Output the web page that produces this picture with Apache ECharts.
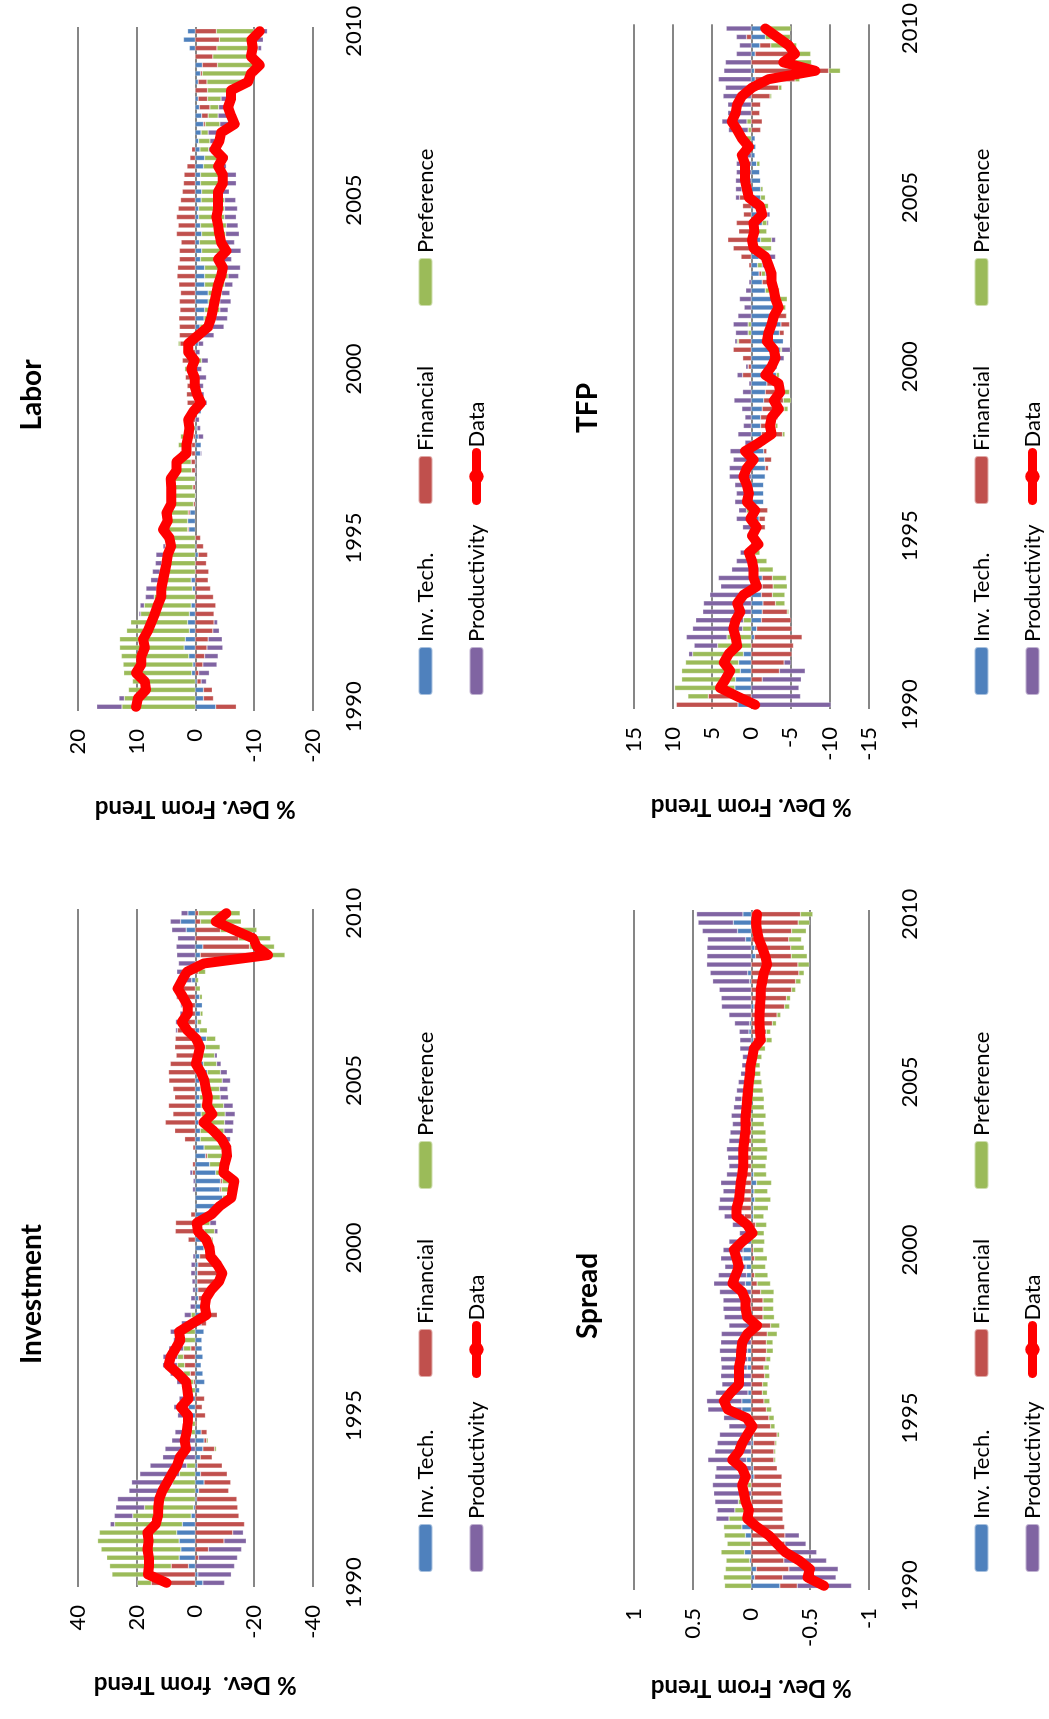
<!DOCTYPE html>
<html>
<head>
<meta charset="utf-8">
<script src="https://cdn.jsdelivr.net/npm/echarts@6/dist/echarts.min.js"></script>
<style>
  html, body { margin: 0; padding: 0; background: #fff; }
  body { width: 1049px; height: 1719px; overflow: hidden; position: relative; }
  /* the figure is drawn landscape and turned a quarter turn, as in the original */
  #chart {
    position: absolute; left: 0; top: 0;
    width: 1719px; height: 1049px;
    transform-origin: 0 0;
    transform: translate(0, 1719px) rotate(-90deg);
  }
</style>
</head>
<body>
<div id="chart"></div>
<script>
// quarters 1990 Q1 .. 2010 Q1
const categories = []
for (let y = 1990; y <= 2010; y++) {
  for (let q = 1; q <= 4; q++) categories.push(y + ' Q' + q)
}
categories.length = 81
const yearTicks = ['1990', '1995', '2000', '2005', '2010']
const legendNames = ['Inv. Tech.', 'Financial', 'Preference', 'Productivity', 'Data']

// Investment
const invTech = [
  -2.6, -0.9, 2.3, 5.5, 4.9, 5.5, 6.3, 4.4, 1.4, 0.6,
  -0.5, -1.2, -3.0, -1.8, -0.7, -1.7, -2.6, -3.0, -2.0, 0,
  1.5, 2.3, 2.5, -1.5, -3.2, -2.6, -2.0, -2.6, -2.3, -2.3,
  -3.0, -2.0, -3.5, -2.0, -1.1, -0.9, -0.6, -0.7, -0.9, -1.5,
  -3.0, -5.5, -3.0, -1.5, -5.5, -7.7, -9.4, -8.4, -8.6, -7.0,
  -4.9, -3.5, -3.0, -1.7, -1.7, -1.2, -2.0, -2.0, -1.5, -1.7,
  -1.5, -4.1, -2.8, -2.6, -3.4, -3.8, -1.5, -0.7, -1.7, -2.4,
  -1.5, 0, 1.2, 0.5, 0, -1.7, -2.6, 0, 3.1, 5.0,
  2.5
]
const invFin = [
  15.0, 17.0, 5.9, -1.1, -4.5, -9.8, -12.8, -16.8, -14.9, -14.5,
  -13.7, -10.2, -9.1, -9.1, -8.5, -4.1, -4.0, -0.9, -2.0, -0.5,
  -3.5, -2.4, -3.2, 0, 0.6, 1.7, 3.6, 4.0, 1.5, 0,
  0, -1.8, -4.0, 0, -1.5, -4.5, -6.6, -9.0, -8.0, -3.5,
  0, 2.4, 6.8, 6.7, 1.5, 0, 0, -0.5, -0.6, 0.9,
  0.9, -0.6, 0.8, 3.6, 7.0, 10.2, 7.6, 9.1, 7.0, 7.6,
  9.0, 9.1, 8.5, 6.5, 7.0, 6.8, 6.1, 6.0, 4.0, 4.5,
  6.3, 7.1, 0, -1.0, -4.0, -24.4, -15.9, -14.8, -8.6, -1.8,
  -1.1
]
const invPref = [
  4.8, 11.4, 21.0, 24.7, 27.2, 27.8, 26.4, 23.1, 19.9, 16.7,
  13.5, 10.1, 7.7, 5.4, 2.9, 0, -0.6, -0.5, 1.4, 1.1,
  0, 0, 0, 1.7, 1.7, 2.3, 2.5, 2.0, 2.5, 3.6,
  4.0, 2.0, 1.4, -3.0, -2.6, -1.0, -2.0, -1.0, 0, -1.0,
  -1.9, -0.6, -3.6, -3.5, -1.5, -0.6, -2.9, -4.8, -4.8, -4.0,
  -6.0, -6.5, -8.2, -7.2, -8.1, -8.8, -8.2, -7.7, -7.0, -6.6,
  -7.7, -4.5, -4.5, -4.0, -5.1, -3.2, -2.6, -1.4, -0.9, 0,
  -0.9, -1.7, -1.1, -2.5, -4.5, -4.5, -8.5, -10.9, -12.4, -13.9,
  -14.2
]
const invProd = [
  -7.4, -11.4, -13.4, -13.3, -11.3, -7.6, -3.6, 1.5, 6.3, 9.8,
  13.0, 12.5, 14.0, 13.5, 12.5, 11.1, 10.3, 8.0, 5.5, 2.0,
  4.5, 5.0, 3.0, 2.5, 4.0, 4.5, 5.0, 5.0, 5.0, 3.8,
  4.5, 2.7, 2.3, 1.7, 1.5, 0.9, 1.1, 1.5, 1.4, 0.8,
  0, 0, -1.1, -2.2, 0, 0, 0, 0.9, 0.7, 0.9,
  0, 0, 0, -3.1, -3.1, -3.1, -3.4, -3.2, -2.8, -2.8,
  -2.8, -2.3, -1.5, -0.9, 0, 0, 0.6, 0.7, 1.2, 0.5,
  0.3, 0.5, 4.0, 5.8, 5.7, 6.3, 6.5, 6.0, 4.9, 3.5,
  2.3
]
const invData = [
  9.8, 16.1, 15.8, 15.8, 16.3, 15.9, 16.3, 13.5, 12.7, 12.6,
  12.3, 11.2, 9.6, 8.0, 6.2, 5.3, 3.1, 3.6, 2.9, 2.6,
  2.5, 4.9, 2.3, 2.7, 3.1, 5.9, 9.1, 8.4, 6.7, 5.1,
  5.5, 0.9, -3.8, -3.3, -3.7, -5.5, -8.1, -9.2, -7.5, -5.2,
  -4.9, -3.7, -0.9, -0.5, -5.5, -8.3, -12.3, -12.8, -13.3, -9.6,
  -10.0, -10.8, -10.6, -9.0, -6.2, -2.8, -5.8, -4.0, -4.3, -3.6,
  -3.1, -1.9, -0.2, -1.0, -1.6, -0.3, 2.7, 4.6, 2.6, 2.6,
  4.2, 6.0, 4.5, 2.8, -3.0, -24.8, -21.0, -19.7, -13.2, -7.0,
  -10.6
]

// Labor
const labTech = [
  -3.5, -1.4, -1.4, -0.3, 0.6, 0.4, 1.1, 1.9, 1.7, 1.0,
  1.3, 1.0, 0.7, 0, 0.5, 0.7, 0, 0, -0.5, -0.2,
  0, 1.1, 1.3, 0.9, 0, 0, 0, 0, 0, 0,
  -0.9, -1.0, -0.5, -0.3, 0, -1.0, -0.5, -0.5, -0.5, -0.6,
  -0.1, -0.5, 0, -0.5, -0.3, -0.8, -1.5, -1.6, -2.2, -2.2,
  -1.6, -1.6, -1.6, -0.9, -1.1, -0.7, -1.1, -0.9, -0.6, -0.6,
  -1.0, -1.1, -0.9, -0.9, -1.4, -1.6, -0.8, -0.6, -1.0, -1.4,
  -1.1, -0.7, -0.5, 0, -0.5, -0.9, -1.2, 0, 1.0, 2.0,
  1.3
]
const labFin = [
  -3.5, -1.7, -1.5, -0.7, -0.6, -1.3, -1.6, -2.0, -2.2, -3.0,
  -3.2, -3.2, -3.5, -3.1, -2.6, -2.2, -2.3, -1.9, -1.6, -1.2,
  -0.9, 0.2, 0, 0.3, 0.3, 0, 0.4, 0, 0.6, 0.7,
  0.6, 0.6, 0.3, 0, 0.8, 1.1, 1.4, 1.5, 1.4, 1.7,
  1.4, 2.2, 2.0, 2.6, 2.7, 2.7, 2.8, 2.6, 2.7, 2.5,
  2.8, 3.1, 3.0, 2.7, 2.7, 2.4, 3.2, 2.9, 3.2, 2.9,
  2.5, 2.2, 2.0, 1.9, 1.4, 0.9, 0.6, 0, 0, -0.3,
  -1.1, -1.8, -1.6, -2.1, -1.5, -0.3, -2.6, -3.0, -3.7, -4.1,
  -3.6
]
const labPref = [
  12.5, 12.1, 11.4, 10.7, 11.6, 11.9, 11.5, 11.0, 11.2, 10.7,
  9.7, 8.3, 8.0, 7.0, 6.1, 5.6, 6.0, 5.7, 5.4, 5.1,
  5.3, 4.2, 3.4, 4.1, 3.8, 4.1, 3.7, 4.2, 2.6, 2.7,
  2.0, 2.3, 2.2, 1.5, 1.0, 0, 0, 0, 0, 0,
  0.4, -0.6, 0, 0.3, -0.7, -2.1, -2.0, -2.6, -2.0, -2.3,
  -3.4, -4.0, -3.6, -3.8, -4.1, -4.3, -4.1, -4.4, -4.4, -4.4,
  -4.0, -3.3, -3.5, -3.5, -2.5, -2.5, -1.5, -1.9, -1.2, -2.5,
  -1.7, -1.5, -2.3, -3.5, -7.0, -8.0, -7.2, -6.6, -7.0, -6.0,
  -6.4
]
const labProd = [
  4.3, 0.9, 0, -0.9, -1.8, -2.4, -2.3, -2.7, -2.4, -1.1,
  -0.6, 0.3, 0.7, 1.5, 1.8, 1.3, 1.3, 1.1, 1.3, 0.4,
  0, 0, 0, 0, 0, 0, 0, -0.2, -0.2, -0.2,
  -0.2, 0, -0.9, -0.6, -0.7, 0, -1.5, -1.0, -0.9, -1.3,
  -1.0, -1.1, -0.8, -0.9, -2.2, -2.0, -2.0, -1.4, -1.9, -1.4,
  -1.4, -1.8, -2.5, -1.5, -2.6, -1.7, -2.3, -2.0, -2.0, -2.2,
  -1.9, -1.4, -2.6, -2.6, -1.4, -1.5, -1.6, -1.6, -1.9, -2.5,
  -2.2, -1.6, -1.7, -0.4, 0, -0.3, 0, 0, -0.6, -1.5,
  -2.3
]
const labData = [
  10.1, 9.8, 8.4, 8.6, 10.1, 9.2, 9.2, 8.6, 8.9, 8.1,
  7.5, 6.9, 6.4, 5.8, 5.8, 5.5, 5.2, 4.9, 4.7, 4.1,
  4.4, 5.5, 4.7, 4.9, 4.1, 4.1, 4.1, 4.2, 3.2, 3.2,
  1.5, 1.5, 1.2, 1.0, 1.2, 0.3, -1.0, -0.3, 0.1, 0.1,
  0.7, 0.1, 1.2, 1.2, -0.5, -2.2, -2.7, -3.0, -3.3, -3.6,
  -3.9, -4.4, -4.7, -3.9, -5.3, -4.4, -4.1, -3.9, -3.6, -3.9,
  -3.9, -3.9, -4.7, -4.7, -3.9, -4.7, -3.3, -4.1, -4.4, -6.7,
  -6.1, -5.6, -6.1, -6.1, -9.0, -9.5, -11.0, -9.5, -9.8, -9.6,
  -11.0
]

// Spread
const sprTech = [
  -0.244, -0.028, -0.043, 0.014, 0.057, 0.005, 0.05, 0.08, 0, 0,
  0, 0, 0, -0.023, -0.017, 0.04, 0, -0.017, -0.02, 0,
  0, 0.08, 0.08, 0.028, 0, 0, 0.035, 0.03, 0.03, 0,
  0, 0, 0, 0, 0, 0, 0.05, 0.04, 0.045, 0.07,
  0.07, 0.05, 0, 0, -0.017, -0.017, -0.03, -0.023, -0.045, -0.02,
  0, 0, 0, 0, 0, 0, 0, 0, 0, 0,
  0, 0, 0, 0, 0, -0.017, 0.02, 0.014, 0, -0.023,
  0, 0, 0.014, 0.03, 0, -0.037, -0.03, 0.048, 0.117, 0.153,
  0.071
]
const sprFin = [
  -0.148, -0.24, -0.278, -0.278, -0.278, -0.287, -0.287, -0.284, -0.27, -0.27,
  -0.27, -0.26, -0.256, -0.24, -0.205, -0.193, -0.193, -0.185, -0.2, -0.165,
  -0.15, -0.128, -0.108, -0.094, -0.097, -0.114, -0.108, -0.125, -0.13, -0.128,
  -0.136, -0.165, -0.1, -0.1, -0.1, -0.08, -0.05, -0.028, 0, -0.028,
  -0.017, 0, 0, -0.037, 0.06, 0.1, 0.1, 0.1, 0.11, 0.09,
  0.09, 0.08, 0.09, 0.09, 0.08, 0.06, 0.07, 0.06, 0.08, 0.035,
  0, 0, 0, -0.03, -0.03, -0.11, -0.128, -0.18, -0.22, -0.261,
  -0.3, -0.344, -0.378, -0.406, -0.398, -0.304, -0.307, -0.32, -0.344, -0.4,
  -0.42
]
const sprPref = [
  0.227, 0.236, 0.22, 0.2, 0.2, 0.2, 0.18, 0.156, 0.19, 0.14,
  0.11, 0, 0.03, 0, 0, -0.014, -0.014, -0.014, -0.02, -0.037,
  -0.045, -0.045, -0.05, -0.043, -0.045, -0.043, -0.045, -0.04, -0.057, -0.057,
  -0.085, -0.077, -0.097, -0.09, -0.09, -0.114, -0.114, -0.114, -0.122, -0.108,
  -0.088, -0.114, -0.11, -0.094, -0.09, -0.128, -0.136, -0.117, -0.128, -0.11,
  -0.125, -0.135, -0.14, -0.125, -0.125, -0.11, -0.125, -0.11, -0.11, -0.1,
  -0.09, -0.08, -0.075, -0.06, -0.09, -0.05, -0.037, -0.034, -0.031, -0.043,
  -0.034, -0.034, -0.045, -0.045, -0.097, -0.136, -0.114, -0.108, -0.125, -0.1,
  -0.105
]
const sprProd = [
  -0.463, -0.455, -0.42, -0.364, -0.28, -0.18, -0.122, 0, 0.11, 0.15,
  0.2, 0.32, 0.3, 0.31, 0.3, 0.33, 0.31, 0.29, 0.27, 0.19,
  0.235, 0.29, 0.3, 0.276, 0.25, 0.26, 0.22, 0.23, 0.24, 0.26,
  0.255, 0.19, 0.23, 0.24, 0.24, 0.27, 0.27, 0.24, 0.18, 0.19,
  0.17, 0.14, 0.1, 0.16, 0.17, 0.18, 0.17, 0.14, 0.15, 0.12,
  0.1, 0.12, 0.12, 0.1, 0.1, 0.1, 0.1, 0.09, 0.06, 0.09,
  0.11, 0.09, 0.08, 0.074, 0.097, 0.097, 0.082, 0.128, 0.19, 0.253,
  0.256, 0.273, 0.315, 0.32, 0.38, 0.378, 0.378, 0.324, 0.3, 0.3,
  0.395
]
const sprData = [
  -0.62, -0.48, -0.5, -0.41, -0.29, -0.22, -0.15, -0.05, 0.034, 0.02,
  0.048, 0.062, 0.077, 0.048, 0.077, 0.162, 0.105, 0.077, 0.034, -0.01,
  0.04, 0.2, 0.233, 0.176, 0.105, 0.105, 0.105, 0.09, 0.085, 0.077,
  0.034, -0.05, 0.034, 0.048, 0.048, 0.077, 0.16, 0.134, 0.105, 0.125,
  0.148, 0.077, -0.01, 0.034, 0.125, 0.125, 0.105, 0.097, 0.09, 0.077,
  0.068, 0.068, 0.068, 0.06, 0.052, 0.048, 0.048, 0.04, 0.034, 0.028,
  0.02, 0.011, 0.006, -0.01, -0.023, -0.08, -0.074, -0.071, -0.071, -0.074,
  -0.08, -0.08, -0.094, -0.108, -0.136, -0.12, -0.094, -0.065, -0.05, -0.04,
  -0.05
]

// TFP
const tfpTech = [
  1.7, 0, 2.1, 2.0, 1.4, 1.6, 1.0, 0, -0.4, -0.7,
  -1.3, -1.4, -1.5, -1.3, -1.4, -1.4, -1.0, -0.6, -0.4, -0.6,
  -0.4, -1.0, -1.0, -0.9, -1.6, -1.6, -1.6, -1.8, -1.8, -1.7,
  -1.6, -1.0, -1.3, -1.2, -1.2, -1.4, -1.6, -1.8, -2.0, -3.2,
  -3.3, -3.6, -3.7, -4.1, -3.6, -3.8, -3.0, -3.0, -2.7, -1.8,
  -1.4, -1.0, -0.8, -1.0, -0.5, -1.2, -0.5, -1.4, -2.0, -1.0,
  -1.2, -1.2, -1.2, -1.1, -0.7, -0.5, -0.6, -0.5, 0, 0,
  0, 0, 0, 0, -0.5, -0.4, 0, -0.5, -1.1, -1.8,
  -1.4
]
const tfpFin = [
  7.9, 5.5, 0, -1.4, -3.6, -4.2, -5.2, -5.4, -6.1, -4.5,
  -3.8, -3.2, -1.6, -1.4, -1.4, -1.3, 0, 0, 0, -0.3,
  -0.2, -0.8, -0.8, -1.2, 0, 0, 0, 0, -0.4, -0.9,
  -0.4, -0.8, -2.7, -1.9, -2.2, -2.8, -2.5, -2.1, -1.8, 1.1,
  0.4, 1.1, 2.3, 1.6, -0.6, -1.1, -1.5, -0.8, 0, 0,
  -1.3, -0.3, 0.3, 1.3, 2.3, 3.0, 1.6, 1.9, 1.0, 1.1,
  1.5, 1.2, 0, 0, 0, 0, 0, 0, -1.2, -1.4,
  -1.1, -1.2, -2.4, -3.5, -5.1, -9.5, -4.3, -4.3, -1.4, 0.6,
  0
]
const tfpPref = [
  0, 2.6, 7.7, 6.9, 7.5, 6.8, 6.5, 4.3, 3.1, 1.1,
  1.0, -0.2, -1.2, -1.6, -1.8, -1.8, -1.8, -1.4, -0.7, 0,
  0, 0, 0, 0.6, 0, 0, 0, 0, 0, 0,
  0, 0, -0.3, -0.3, 0, -0.5, -1.0, -1.0, 0, -0.4,
  0, 0, -0.2, 0.2, 0.4, 0.4, -0.1, -0.6, -1.9, -1.8,
  -0.2, -0.5, -0.6, -1.1, -2.1, -1.4, -1.5, -0.6, 0, -1.2,
  -0.6, -0.3, 0, 0, -0.4, 0, 0, 0.7, 0.4, 0.55,
  0, 0, -0.2, -0.4, -0.6, -1.5, -3.4, -2.8, -3.3, -3.2,
  -3.7
]
const tfpProd = [
  -10.2, -6.3, -6.1, -5.0, -3.3, -0.9, 0.5, 3.0, 5.2, 6.4,
  6.1, 6.2, 6.1, 5.3, 3.9, 4.2, 2.5, 1.9, 1.4, 0,
  0.5, 1.1, 1.9, 1.0, 2.1, 1.9, 2.1, 2.8, 2.8, 2.3,
  2.7, 0.8, 1.7, 1.0, 0.8, 1.2, 2.2, 1.1, 0.3, 0.7,
  0.3, -0.6, -1.1, 0.3, 1.6, 1.9, 1.7, 0.9, 1.5, 0.7,
  0.3, -0.8, -1.1, -1.0, 0, -0.5, 0, -0.2, -0.4, 0,
  0.5, 0.8, 2.0, 1.9, 1.9, 1.7, 0.9, 1.0, 2.5, 3.2,
  3.0, 3.0, 3.6, 3.3, 4.2, 3.5, 3.3, 1.9, 1.5, 1.3,
  3.2
]
const tfpData = [
  -0.5, 1.8, 4.0, 3.3, 2.7, 3.5, 2.9, 1.8, 2.0, 2.3,
  2.0, 1.4, 1.8, 1.0, -0.7, -0.3, -0.3, -0.1, 0.3, -0.9,
  -0.1, -0.7, 0.1, -0.5, 0.55, 0.3, 0.55, 1.0, 0.55, -0.3,
  0.8, -1.0, -2.6, -2.4, -2.6, -3.5, -2.9, -3.7, -3.5, -1.8,
  -2.6, -3.1, -2.9, -2.0, -2.2, -2.6, -2.9, -3.5, -3.1, -2.9,
  -2.6, -2.6, -2.2, -1.8, -0.3, -0.1, -0.4, -0.3, -1.4, -1.1,
  0.3, 0.55, 0.8, 0.8, 0.8, 1.2, 0.3, 1.2, 1.8, 2.5,
  2.0, 1.8, 1.2, -0.1, -2.2, -8.2, -4.1, -5.6, -4.8, -3.3,
  -1.8
]

const colors = ['#4F81BD', '#C0504D', '#9BBB59', '#8064A2', '#FF0000']
const font = 'Lato, "Open Sans", sans-serif'

const panels = [
  { title: 'Investment', axisName: '% Dev.  from Trend', min: -40, max: 40, step: 20,
    series: [invTech, invFin, invPref, invProd, invData],
    left: 132, top: 78, width: 678, titleX: 420, legendX: [141, 336, 524] },
  { title: 'Labor', axisName: '% Dev. From Trend', min: -20, max: 20, step: 10,
    series: [labTech, labFin, labPref, labProd, labData],
    left: 1008, top: 78, width: 684, titleX: 1319, legendX: [1018, 1209, 1407] },
  { title: 'Spread', axisName: '% Dev. From Trend', min: -1, max: 1, step: 0.5,
    series: [sprTech, sprFin, sprPref, sprProd, sprData],
    left: 129, top: 634, width: 680, titleX: 418, legendX: [141, 336, 524] },
  { title: 'TFP', axisName: '% Dev. From Trend', min: -15, max: 15, step: 5,
    series: [tfpTech, tfpFin, tfpPref, tfpProd, tfpData],
    left: 1010, top: 634, width: 686, titleX: 1306, legendX: [1018, 1209, 1407] }
]

const option = {
  animation: false,
  backgroundColor: '#fff',
  textStyle: { fontFamily: font },
  title: [],
  legend: [],
  grid: [],
  xAxis: [],
  yAxis: [],
  series: []
}

panels.forEach((p, k) => {
  option.title.push({
    text: p.title, left: p.titleX, top: p.top - 65, textAlign: 'center',
    textStyle: { fontSize: 28, fontWeight: 'bold', color: '#000', fontFamily: font }
  })
  option.grid.push({ left: p.left, top: p.top, width: p.width, height: 234.5 })
  option.xAxis.push({
    type: 'category', gridIndex: k, data: categories,
    axisLine: { show: false, onZero: false },
    axisTick: { show: false },
    splitLine: { show: false },
    axisLabel: {
      interval: 19, margin: 30, fontSize: 22, color: '#000', fontFamily: font,
      formatter: (v, i) => yearTicks[Math.round(i / 20)]
    }
  })
  option.yAxis.push({
    type: 'value', gridIndex: k, min: p.min, max: p.max, interval: p.step,
    axisLine: { show: false }, axisTick: { show: false },
    splitLine: { lineStyle: { color: '#868686', width: 2 } },
    axisLabel: { fontSize: 22, margin: 18, color: '#000', fontFamily: font },
    name: p.axisName, nameLocation: 'middle', nameGap: 86,
    nameTextStyle: { fontSize: 24, fontWeight: 'bold', color: '#000', fontFamily: font }
  })
  p.series.forEach((vals, s) => {
    const name = legendNames[s]
    if (s < 4) {
      option.series.push({
        name, type: 'bar', stack: 'p' + k, xAxisIndex: k, yAxisIndex: k,
        data: vals, barWidth: 5, color: colors[s],
        itemStyle: { borderColor: 'rgba(255,255,255,0.5)', borderWidth: 0.5 }
      })
    } else {
      option.series.push({
        name, type: 'line', xAxisIndex: k, yAxisIndex: k, data: vals,
        color: colors[4], symbol: 'circle', symbolSize: 14, showSymbol: false, z: 5,
        lineStyle: { width: 10, color: colors[4], cap: 'round', join: 'round' }
      })
    }
    // one legend box per item so the two rows line up in columns
    const row = s < 3 ? 0 : 1
    const col = s < 3 ? s : s - 3
    const leg = {
      data: [name], left: p.legendX[col], top: p.top + 234.5 + 97 + row * 51,
      itemWidth: 48, itemHeight: 14, itemGap: 0,
      textStyle: { fontSize: 22, color: '#000', fontFamily: font },
      selectedMode: false
    }
    if (s === 4) {
      leg.itemHeight = 18
      leg.lineStyle = { width: 9, cap: 'round' }
    }
    option.legend.push(leg)
  })
})

const chart = echarts.init(document.getElementById('chart'))
chart.setOption(option)
</script>
</body>
</html>
